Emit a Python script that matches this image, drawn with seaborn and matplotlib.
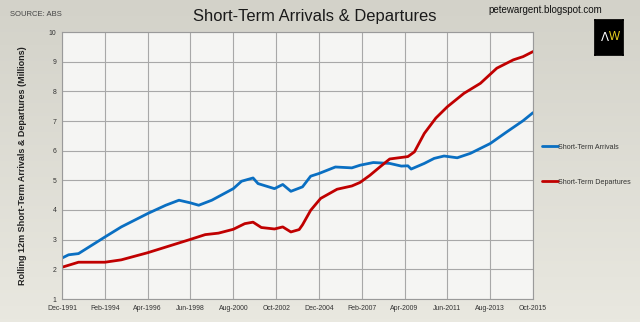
import matplotlib
matplotlib.use("Agg")
import matplotlib.pyplot as plt
import seaborn as sns
import pandas as pd
import numpy as np
from matplotlib import font_manager
from matplotlib.colors import LinearSegmentedColormap

arr_dates = ["1991-12", "1992-04", "1992-10", "1994-02", "1994-12", "1996-04", "1997-03",
             "1997-11", "1998-06", "1998-11", "1999-07", "2000-08", "2001-01", "2001-08",
             "2001-11", "2002-09", "2003-02", "2003-07", "2004-02", "2004-07", "2004-12",
             "2005-10", "2006-08", "2007-01", "2007-09", "2008-07", "2009-02", "2009-06",
             "2009-08", "2010-04", "2010-10", "2011-04", "2011-12", "2012-08", "2013-08",
             "2014-06", "2015-04", "2015-10"]
arrivals = [2.38, 2.49, 2.53, 3.09, 3.43, 3.88, 4.16,
            4.33, 4.24, 4.16, 4.33, 4.72, 4.97, 5.08,
            4.89, 4.72, 4.86, 4.63, 4.78, 5.14, 5.23,
            5.45, 5.42, 5.51, 5.60, 5.57, 5.48, 5.49,
            5.38, 5.57, 5.74, 5.82, 5.76, 5.91, 6.24,
            6.63, 7.01, 7.28]

dep_dates = ["1991-12", "1992-10", "1994-02", "1994-12", "1996-04", "1997-03", "1998-06",
             "1999-03", "1999-11", "2000-08", "2001-03", "2001-08", "2002-01", "2002-09",
             "2003-02", "2003-07", "2003-12", "2004-02", "2004-07", "2005-01", "2005-11",
             "2006-08", "2007-01", "2007-07", "2008-01", "2008-07", "2009-06", "2009-10",
             "2010-04", "2010-11", "2011-06", "2012-04", "2013-02", "2013-12", "2014-10",
             "2015-04", "2015-10"]
departures = [2.07, 2.24, 2.24, 2.32, 2.56, 2.75, 3.01,
              3.17, 3.22, 3.35, 3.54, 3.59, 3.41, 3.36,
              3.43, 3.26, 3.34, 3.50, 3.99, 4.39, 4.70,
              4.81, 4.93, 5.17, 5.45, 5.72, 5.80, 5.96,
              6.58, 7.10, 7.48, 7.93, 8.27, 8.78, 9.06,
              9.17, 9.34]

series_names = ["Short-Term Arrivals", "Short-Term Departures"]
series_colors = ["#0a6fc2", "#c00000"]
y_ticks = [1, 2, 3, 4, 5, 6, 7, 8, 9, 10]
x_tick_labels = ["Dec-1991", "Feb-1994", "Apr-1996", "Jun-1998", "Aug-2000", "Oct-2002",
                 "Dec-2004", "Feb-2007", "Apr-2009", "Jun-2011", "Aug-2013", "Oct-2015"]

df = pd.concat([
    pd.DataFrame({"date": pd.to_datetime(arr_dates), "value": arrivals, "series": series_names[0]}),
    pd.DataFrame({"date": pd.to_datetime(dep_dates), "value": departures, "series": series_names[1]}),
])

sns.set_theme(style="white")
plt.rcParams["font.family"] = ["Liberation Sans", "DejaVu Sans"]

names = {f.name for f in font_manager.fontManager.ttflist}
NARROW = "Liberation Sans Narrow" if "Liberation Sans Narrow" in names else "Liberation Sans"
narrow_scale = 1.0 if NARROW == "Liberation Sans Narrow" else 0.85

fig = plt.figure(figsize=(6.4, 3.22), dpi=100, facecolor="#e2e1d8")
bg = fig.add_axes([0, 0, 1, 1], zorder=-10)
grad = np.linspace(0, 1, 100).reshape(-1, 1)
cmap = LinearSegmentedColormap.from_list("bg", ["#d3d2c9", "#e9e8e0"])
bg.imshow(grad, aspect="auto", cmap=cmap, extent=[0, 1, 0, 1], origin="upper")
bg.set_axis_off()

ax = fig.add_axes([62 / 640, 1 - 299 / 322, (533 - 62) / 640, (299 - 32) / 322])
ax.set_facecolor("#f5f5f3")

sns.lineplot(data=df, x="date", y="value", hue="series", palette=series_colors,
             hue_order=series_names, linewidth=2.0, ax=ax, legend=True)

tick_dates = pd.to_datetime(x_tick_labels, format="%b-%Y")
ax.set_xticks(tick_dates)
ax.set_xticklabels(x_tick_labels)
ax.set_xlim(tick_dates[0], tick_dates[-1])
ax.set_ylim(1, 10)
ax.set_yticks(y_ticks)
ax.set_yticklabels([str(v) for v in y_ticks])
ax.grid(True, color="#a8a8a8", linewidth=0.8)
ax.tick_params(axis="both", labelsize=5.8 * narrow_scale, colors="#555555", length=2, pad=2)
for lbl in ax.get_xticklabels() + ax.get_yticklabels():
    lbl.set_color("#333333")
    lbl.set_family([NARROW, "DejaVu Sans"])
for s in ax.spines.values():
    s.set_color("#9a9a9a")
    s.set_linewidth(0.8)
ax.set_xlabel("")
ax.set_ylabel("Rolling 12m Short-Term Arrivals & Departures (Millions)", fontsize=6.5,
              fontweight="bold", color="#222222", labelpad=16)

leg = ax.legend(loc="center left", bbox_to_anchor=(1.014, 0.503), frameon=False,
                fontsize=6.1 * narrow_scale, labelspacing=3.9, handlelength=2.1,
                handletextpad=0.05, borderaxespad=0.0)
for t in leg.get_texts():
    t.set_color("#333333")
    t.set_family([NARROW, "DejaVu Sans"])

fig.text(315 / 640, 1 - 17 / 322, "Short-Term Arrivals & Departures", ha="center", va="center",
         fontsize=14 * narrow_scale, color="#1a1a1a", family=[NARROW, "DejaVu Sans"])
fig.text(10 / 640, 1 - 15 / 322, "SOURCE: ABS", ha="left", va="center", fontsize=5.5,
         color="#444444", family=[NARROW, "DejaVu Sans"])
fig.text(545 / 640, 1 - 10 / 322, "petewargent.blogspot.com", ha="center", va="center",
         fontsize=7, color="#111111")

logo = fig.add_axes([595 / 640, 1 - 55 / 322, 28 / 640, 35 / 322])
logo.set_facecolor("black")
logo.set_xticks([]); logo.set_yticks([])
for s in logo.spines.values():
    s.set_color("black")
logo.text(0.5, 0.5, "ΛW", color="white", ha="right", va="center", fontsize=1,
          transform=logo.transAxes, alpha=0)
logo.text(0.49, 0.5, "Λ", color="white", ha="right", va="center", fontsize=8.5,
          transform=logo.transAxes, family=["DejaVu Sans"])
logo.text(0.51, 0.5, "W", color="#e8d020", ha="left", va="center", fontsize=8.5,
          transform=logo.transAxes)

fig.savefig("out.png", dpi=100, facecolor=fig.get_facecolor())
